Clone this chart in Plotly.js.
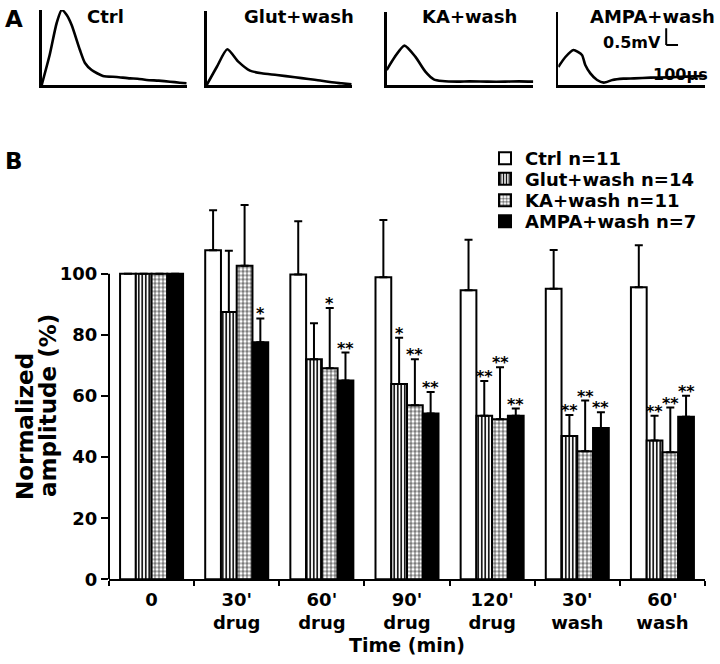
<!DOCTYPE html>
<html>
<head>
<meta charset="utf-8">
<script src="https://cdn.plot.ly/plotly-3.0.1.min.js"></script>
<style>html,body{margin:0;padding:0;background:#fff;}</style>
</head>
<body>
<div id="chart" style="width:720px;height:664px;"></div>
<script>
// ---------- Panel B data ----------
const categories = ["0", "30'<br>drug", "60'<br>drug", "90'<br>drug", "120'<br>drug", "30'<br>wash", "60'<br>wash"];
const seriesNames = ["Ctrl n=11", "Glut+wash n=14", "KA+wash n=11", "AMPA+wash n=7"];
const ctrlVals = [100, 107.7, 99.8, 98.9, 94.6, 95.1, 95.6];
const ctrlErr  = [NaN, 13.1, 17.4, 18.7, 16.5, 12.7, 13.7];
const glutVals = [100, 87.5, 72.0, 63.9, 53.5, 46.9, 45.4];
const glutErr  = [NaN, 20.0, 11.8, 15.2, 11.4, 6.9, 8.1];
const kaVals   = [100, 102.6, 69.1, 57.0, 52.4, 41.9, 41.6];
const kaErr    = [NaN, 19.9, 19.7, 15.0, 17.0, 16.6, 14.6];
const ampaVals = [100, 77.6, 65.1, 54.3, 53.5, 49.5, 53.2];
const ampaErr  = [NaN, 7.8, 9.1, 7.0, 2.4, 5.2, 6.9];
const ctrlSig  = ["", "", "", "", "", "", ""];
const glutSig  = ["", "", "", "*", "**", "**", "**"];
const kaSig    = ["", "", "*", "**", "**", "**", "**"];
const ampaSig  = ["", "*", "**", "**", "**", "**", "**"];
const yTickVals = [0, 20, 40, 60, 80, 100];

// ---------- Panel A data (time in µs, amplitude in mV) ----------
const ctrlT = [0, 68, 128, 171, 214, 256, 327, 370, 427, 524, 641, 755, 820, 898, 1000, 1097, 1180, 1240];
const ctrlV = [0, 0.90, 1.86, 2.25, 2.10, 1.80, 1.05, 0.66, 0.45, 0.27, 0.24, 0.20, 0.19, 0.15, 0.13, 0.10, 0.07, 0.05];
const glutT = [0, 86, 176, 270, 370, 470, 600, 755, 870, 983, 1070, 1154, 1240];
const glutV = [0, 0.54, 1.07, 0.70, 0.43, 0.35, 0.30, 0.23, 0.18, 0.13, 0.08, 0.05, 0.02];
const kaT = [0, 68, 150, 242, 327, 398, 470, 600, 700, 855, 1000, 1120, 1240];
const kaV = [0.45, 0.84, 1.18, 0.85, 0.40, 0.17, 0.12, 0.10, 0.11, 0.10, 0.10, 0.11, 0.10];
const ampaT = [0, 60, 128, 200, 228, 271, 328, 385, 457, 550, 641, 780, 927, 1080, 1240];
const ampaV = [0.54, 0.84, 1.05, 0.90, 0.60, 0.35, 0.15, 0.07, 0.15, 0.19, 0.20, 0.22, 0.23, 0.25, 0.27];
const traceLabels = ["Ctrl", "Glut+wash", "KA+wash", "AMPA+wash"];

const W = 720, H = 664;
const px = x => x / W;
const py = y => 1 - y / H;
const BARGAP = 0.26;
const FONT = "DejaVu Sans";

const barSpecs = [
  {name: seriesNames[0], y: ctrlVals, err: ctrlErr, sig: ctrlSig, marker: {color: "#ffffff", line: {color: "#000", width: 2}}},
  {name: seriesNames[1], y: glutVals, err: glutErr, sig: glutSig, marker: {color: "#ffffff", line: {color: "#000", width: 2}, pattern: {shape: "|", size: 3.5, solidity: 0.45, fgcolor: "#000", bgcolor: "#fff"}}},
  {name: seriesNames[2], y: kaVals, err: kaErr, sig: kaSig, marker: {color: "#ffffff", line: {color: "#000", width: 2}, pattern: {shape: "+", size: 4, solidity: 0.28, fgcolor: "#000", bgcolor: "#fff"}}},
  {name: seriesNames[3], y: ampaVals, err: ampaErr, sig: ampaSig, marker: {color: "#000000", line: {color: "#000", width: 2}}}
];
const legendIds = ["legend", "legend2", "legend3", "legend4"];
const legendRowY = [158.5, 179, 200.5, 221.5];

const data = [];
barSpecs.forEach((s, k) => {
  data.push({
    type: "bar", name: s.name, x: categories, y: s.y,
    marker: s.marker, legend: legendIds[k],
    error_y: {type: "data", symmetric: false, array: s.err, arrayminus: s.err.map(() => 0), color: "#000", thickness: 2, width: 4},
    xaxis: "x", yaxis: "y", hoverinfo: "skip"
  });
});

// Panel A traces
const traceSets = [[ctrlT, ctrlV], [glutT, glutV], [kaT, kaV], [ampaT, ampaV]];
traceSets.forEach((ts, i) => {
  data.push({
    type: "scatter", mode: "lines", x: ts[0], y: ts[1],
    line: {color: "#000", width: 2.6, shape: "spline", smoothing: 0.6},
    xaxis: "x" + (i + 2), yaxis: "y" + (i + 2), showlegend: false, cliponaxis: false, hoverinfo: "skip"
  });
});

const annotations = [];
// significance stars
barSpecs.forEach((s, k) => {
  s.sig.forEach((txt, i) => {
    if (!txt) return;
    annotations.push({
      x: i + (k - 1.5) * (1 - BARGAP) / 4, y: s.y[i] + s.err[i], xref: "x", yref: "y",
      text: txt, showarrow: false, xanchor: "center", yanchor: "bottom", yshift: -7,
      font: {family: FONT, size: 16, weight: "bold", color: "#000"}
    });
  });
});

// Panel letters and trace labels
annotations.push({x: px(3), y: py(19), xref: "paper", yref: "paper", text: "A", showarrow: false, xanchor: "left", yanchor: "middle", font: {family: FONT, size: 23, weight: "bold"}});
annotations.push({x: px(3), y: py(161), xref: "paper", yref: "paper", text: "B", showarrow: false, xanchor: "left", yanchor: "middle", font: {family: FONT, size: 23, weight: "bold"}});
const labelX = [85, 241.7, 420, 588];
traceLabels.forEach((t, i) => {
  annotations.push({x: px(labelX[i]), y: py(17), xref: "paper", yref: "paper", text: t, showarrow: false, xanchor: "left", yanchor: "middle", font: {family: FONT, size: 18, weight: "bold"}});
});
annotations.push({x: px(663), y: py(42), xref: "paper", yref: "paper", text: "0.5mV", showarrow: false, xanchor: "right", yanchor: "middle", font: {family: FONT, size: 16, weight: "bold"}});
annotations.push({x: px(651), y: py(75), xref: "paper", yref: "paper", text: "100µs", showarrow: false, xanchor: "left", yanchor: "middle", font: {family: FONT, size: 16, weight: "bold"}});
// Y title, one annotation per line
annotations.push({x: px(25), y: py(427), xref: "paper", yref: "paper", text: "Normalized", textangle: -90, showarrow: false, xanchor: "center", yanchor: "middle", font: {family: FONT, size: 23, weight: "bold"}});
annotations.push({x: px(48), y: py(406), xref: "paper", yref: "paper", text: "amplitude (%)", textangle: -90, showarrow: false, xanchor: "center", yanchor: "middle", font: {family: FONT, size: 23, weight: "bold"}});
// X title
annotations.push({x: 3, y: py(645), xref: "x", yref: "paper", text: "Time (min)", showarrow: false, xanchor: "center", yanchor: "middle", font: {family: FONT, size: 19, weight: "bold"}});

const layout = {
  width: W, height: H,
  margin: {l: 0, r: 0, t: 0, b: 0},
  paper_bgcolor: "#fff", plot_bgcolor: "rgba(0,0,0,0)",
  font: {family: FONT, color: "#000"},
  barmode: "group", bargap: BARGAP, bargroupgap: 0,
  showlegend: true,
  xaxis: {
    domain: [px(109), px(705)], anchor: "y", type: "category", range: [-0.5, 6.5],
    showline: true, linewidth: 2, linecolor: "#000", ticks: "outside", ticklen: 5, tickwidth: 2, tickcolor: "#000",
    tickson: "boundaries", showgrid: false, zeroline: false, ticklabelstandoff: 3,
    tickfont: {family: FONT, size: 18, weight: "bold"}, fixedrange: true
  },
  yaxis: {
    domain: [py(579.3), py(197.4)], anchor: "x", range: [0, 125],
    tickmode: "array", tickvals: yTickVals, ticks: "outside", ticklen: 7, tickwidth: 2, tickcolor: "#000",
    showline: false, showgrid: false, zeroline: false, tickfont: {family: FONT, size: 18, weight: "bold"}, fixedrange: true
  },
  shapes: [
    {type: "line", xref: "x domain", yref: "y", x0: 0, x1: 0, y0: 0, y1: 100, line: {color: "#000", width: 2}},
    // scale bar in the AMPA trace panel
    {type: "line", xref: "x5", yref: "y5", x0: 912, x1: 912, y0: 1.2, y1: 1.7, line: {color: "#000", width: 2}},
    {type: "line", xref: "x5", yref: "y5", x0: 912, x1: 1012, y0: 1.2, y1: 1.2, line: {color: "#000", width: 2}}
  ],
  annotations: annotations
};

legendIds.forEach((id, k) => {
  layout[id] = {x: px(485), y: py(legendRowY[k]), xanchor: "left", yanchor: "middle",
    font: {family: FONT, size: 18, weight: "bold"}, bgcolor: "rgba(0,0,0,0)", itemwidth: 30};
});

const panelA = [
  {x0: 41.7, x1: 186.7, ytop: 10, vmax: 2.25},
  {x0: 206.7, x1: 351.7, ytop: 11, vmax: 2.22},
  {x0: 386.7, x1: 533.3, ytop: 12, vmax: 2.19},
  {x0: 558.3, x1: 705, ytop: 12, vmax: 2.19}
];
panelA.forEach((p, i) => {
  const n = i + 2;
  const common = {showline: true, linewidth: 2.5, linecolor: "#000", showticklabels: false, ticks: "", showgrid: false, zeroline: false, fixedrange: true};
  layout["xaxis" + n] = Object.assign({domain: [px(p.x0), px(p.x1)], anchor: "y" + n, range: [0, 1240]}, common);
  layout["yaxis" + n] = Object.assign({domain: [py(85), py(p.ytop)], anchor: "x" + n, range: [0, p.vmax]}, common);
});

Plotly.newPlot("chart", data, layout, {staticPlot: true, displayModeBar: false});
</script>
</body>
</html>
